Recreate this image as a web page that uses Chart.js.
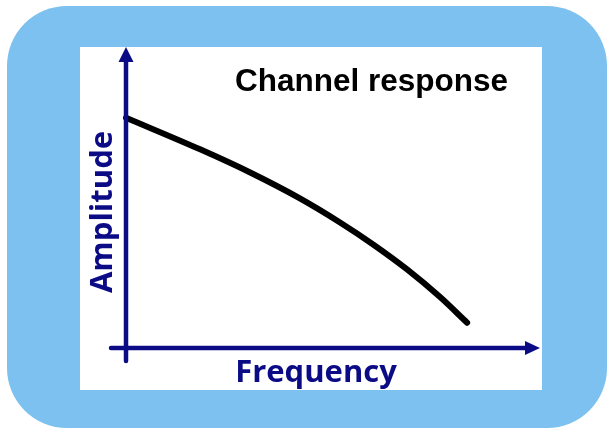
<!DOCTYPE html>
<html lang="en">
<head>
    <meta charset="UTF-8">
    <title>Channel response</title>
    <script src="https://cdn.jsdelivr.net/npm/chart.js"></script>
    <style>
        html, body { margin: 0; padding: 0; background: #ffffff; }
        .master { position: relative; width: 607px; height: 429px; overflow: hidden; }
        .frame { position: absolute; left: 7px; top: 6px; width: 600px; height: 422px; background: #7cc1ef; border-radius: 60px; }
        .panel { position: absolute; left: 80px; top: 47px; width: 462px; height: 343px; background: #ffffff; }
        #myChart { position: absolute; left: 0; top: 0; }
    </style>
</head>
<body>
    <div class="master">
        <div class="frame"></div>
        <div class="panel"></div>
        <canvas id="myChart" width="607" height="429"></canvas>
    </div>

    <script>
        // values
        const frequency = [0, 1.79, 3.0, 4.2, 5.17, 5.97, 6.79, 7.58, 8.24];
        const amplitude = [7.65, 6.6, 5.83, 4.97, 4.17, 3.44, 2.61, 1.7, 0.84];

        const titleText = 'Channel response';
        const xLabel = 'Frequency';
        const yLabel = 'Amplitude';

        const navy = '#0b0b86';

        // axes with arrows + texts
        const axesPlugin = {
            id: 'arrowAxes',
            afterDatasetsDraw(chart) {
                const ctx = chart.ctx;
                const area = chart.chartArea;
                const x0 = chart.scales.x.getPixelForValue(0);
                const y0 = chart.scales.y.getPixelForValue(0);

                ctx.save();
                ctx.strokeStyle = navy;
                ctx.fillStyle = navy;
                ctx.lineWidth = 4.5;
                ctx.lineCap = 'round';

                // y axis
                ctx.beginPath();
                ctx.moveTo(x0, y0 + 13);
                ctx.lineTo(x0, area.top + 12);
                ctx.stroke();
                ctx.beginPath();
                ctx.moveTo(x0, area.top);
                ctx.lineTo(x0 - 7.5, area.top + 15);
                ctx.lineTo(x0 + 7.5, area.top + 15);
                ctx.closePath();
                ctx.fill();

                // x axis
                ctx.beginPath();
                ctx.moveTo(x0 - 15, y0);
                ctx.lineTo(area.right - 12, y0);
                ctx.stroke();
                ctx.beginPath();
                ctx.moveTo(area.right, y0);
                ctx.lineTo(area.right - 15, y0 - 7);
                ctx.lineTo(area.right - 15, y0 + 7);
                ctx.closePath();
                ctx.fill();

                // labels
                ctx.font = 'bold 31px "Open Sans"';
                ctx.textAlign = 'center';
                ctx.textBaseline = 'alphabetic';
                ctx.fillText(xLabel, 316, y0 + 34);

                ctx.translate(x0 - 14, 212);
                ctx.rotate(-Math.PI / 2);
                ctx.fillText(yLabel, 0, 0);
                ctx.restore();

                ctx.save();
                ctx.fillStyle = '#000000';
                ctx.font = 'bold 31.5px "Liberation Sans"';
                ctx.textAlign = 'left';
                ctx.fillText(titleText, 235, 91);
                ctx.restore();
            }
        };

        const points = frequency.map((f, i) => ({ x: f, y: amplitude[i] }));

        const ctx = document.getElementById('myChart').getContext('2d');
        const myChart = new Chart(ctx, {
            type: 'scatter',
            data: {
                datasets: [
                    {
                        label: 'Channel response',
                        data: points,
                        showLine: true,
                        borderColor: '#000000',
                        borderWidth: 6,
                        borderCapStyle: 'round',
                        borderJoinStyle: 'round',
                        cubicInterpolationMode: 'monotone',
                        pointRadius: 0,
                        clip: false,
                    },
                ],
            },
            options: {
                responsive: false,
                animation: false,
                layout: {
                    padding: { left: 126, right: 67, top: 47, bottom: 81 }
                },
                scales: {
                    x: { type: 'linear', min: 0, max: 10, display: false },
                    y: { type: 'linear', min: 0, max: 10, display: false }
                },
                plugins: {
                    legend: { display: false },
                    tooltip: { enabled: false }
                }
            },
            plugins: [axesPlugin]
        });
    </script>
</body>
</html>
